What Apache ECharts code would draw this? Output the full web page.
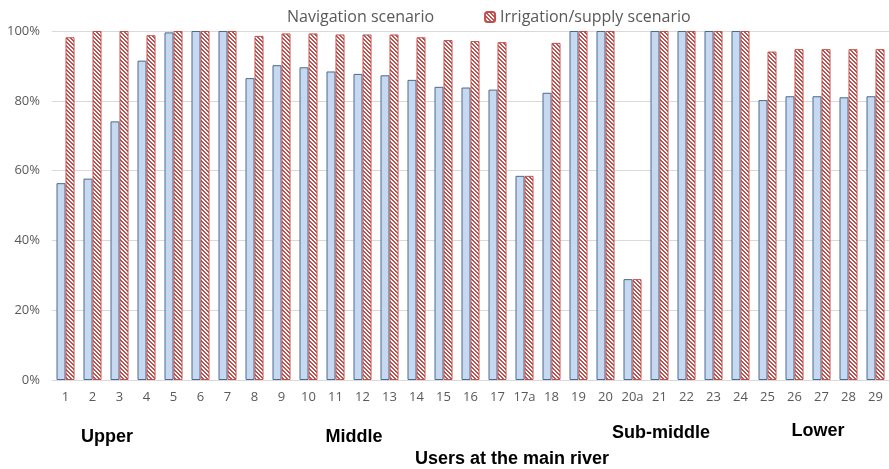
<!DOCTYPE html>
<html>
<head>
<meta charset="utf-8">
<script src="https://cdn.jsdelivr.net/npm/echarts@6/dist/echarts.min.js"></script>
<style>html,body{margin:0;padding:0;background:#fff}#c{width:889px;height:469px}</style>
</head>
<body>
<div id="c"></div>
<script>
const categories = ['1','2','3','4','5','6','7','8','9','10','11','12','13','14','15','16','17','17a','18','19','20','20a','21','22','23','24','25','26','27','28','29'];
const navigation = [56.4,57.7,74.1,91.5,99.6,100,100,86.5,90.2,89.6,88.4,87.7,87.3,86.0,84.0,83.8,83.2,58.5,82.3,100,100,28.9,100,100,100,100,80.2,81.3,81.3,81.0,81.3];
const irrigation = [98.2,100,100,98.8,100,100,100,98.6,99.3,99.3,99.0,99.0,99.0,98.2,97.4,97.1,96.8,58.5,96.6,100,100,28.9,100,100,100,100,94.1,94.8,94.8,94.8,94.8];
const yTicks = [0,20,40,60,80,100];
const groupLabels = ['Upper','Middle','Sub-middle','Lower'];
const axisTitle = 'Users at the main river';

// stripe pattern
const pc = document.createElement('canvas');
pc.width = 4; pc.height = 4;
const pctx = pc.getContext('2d');
const img = pctx.createImageData(4,4);
for (let y=0;y<4;y++) for (let x=0;x<4;x++){
  const i=(y*4+x)*4;
  const red = ((x - y + 8) % 4) < 2;
  if (red){img.data[i]=192;img.data[i+1]=80;img.data[i+2]=77;}
  else {img.data[i]=255;img.data[i+1]=255;img.data[i+2]=255;}
  img.data[i+3]=255;
}
pctx.putImageData(img,0,0);

const chart = echarts.init(document.getElementById('c'));
const gFont = '"Liberation Sans", Arial, sans-serif';
const tFont = '"Open Sans", "Noto Sans", sans-serif';
chart.setOption({
  animation:false,
  grid:{left:52,right:0,top:31,bottom:89,containLabel:false},
  legend:{
    top:4, left:266, itemWidth:10, itemHeight:10, itemGap:50,
    textStyle:{fontFamily:tFont,fontSize:16,color:'#595959'},
    data:[
      {name:'Navigation scenario', itemStyle:{opacity:0}},
      {name:'Irrigation/supply scenario'}
    ]
  },
  xAxis:{
    type:'category', data:categories,
    axisTick:{show:false},
    axisLine:{lineStyle:{color:'#D9D9D9'}},
    axisLabel:{color:'#595959',fontFamily:tFont,fontSize:13,margin:11,interval:0}
  },
  yAxis:{
    type:'value', min:yTicks[0], max:yTicks[yTicks.length-1], interval:20,
    axisLabel:{color:'#595959',fontFamily:tFont,fontSize:13,margin:12,formatter:v=>v+'%'},
    splitLine:{lineStyle:{color:'#D9D9D9'}},
    axisLine:{show:false},axisTick:{show:false}
  },
  series:[
    {name:'Navigation scenario',type:'bar',data:navigation,barWidth:9,barGap:'0%',
     itemStyle:{color:'#C6D9F1',borderColor:'#4A6A91',borderWidth:1}},
    {name:'Irrigation/supply scenario',type:'bar',data:irrigation,barWidth:9,barGap:'0%',
     itemStyle:{color:{image:pc,repeat:'repeat'},borderColor:'#C0504D',borderWidth:1}}
  ],
  graphic:[
    {type:'text',x:107,y:437,style:{text:groupLabels[0],font:'bold 18px '+gFont,fill:'#000',align:'center',verticalAlign:'middle'}},
    {type:'text',x:354,y:437,style:{text:groupLabels[1],font:'bold 18px '+gFont,fill:'#000',align:'center',verticalAlign:'middle'}},
    {type:'text',x:661,y:433,style:{text:groupLabels[2],font:'bold 18px '+gFont,fill:'#000',align:'center',verticalAlign:'middle'}},
    {type:'text',x:818,y:431,style:{text:groupLabels[3],font:'bold 18px '+gFont,fill:'#000',align:'center',verticalAlign:'middle'}},
    {type:'text',x:512,y:459,style:{text:axisTitle,font:'bold 18px '+gFont,fill:'#000',align:'center',verticalAlign:'middle'}}
  ]
});
</script>
</body>
</html>
